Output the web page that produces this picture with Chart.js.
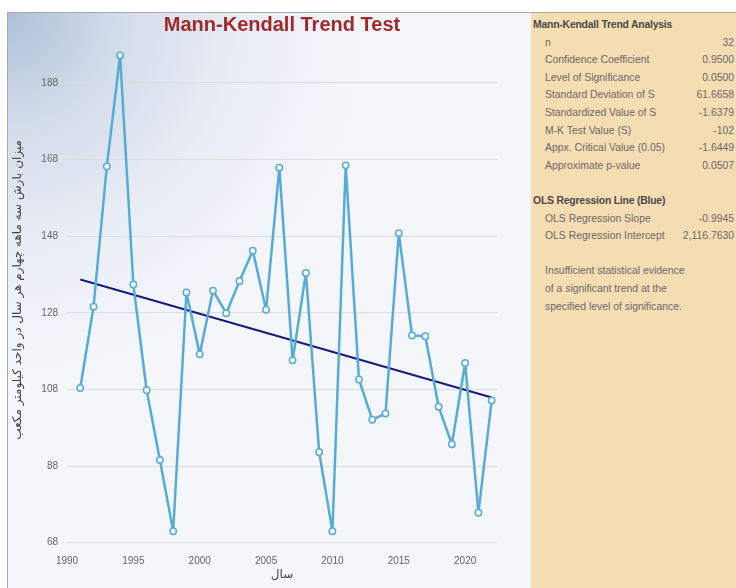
<!DOCTYPE html>
<html>
<head>
<meta charset="utf-8">
<script src="https://cdn.jsdelivr.net/npm/chart.js@4.4.1/dist/chart.umd.min.js"></script>
<style>
  html, body { margin: 0; padding: 0; background: #fff; }
  body { width: 736px; height: 588px; overflow: hidden; position: relative; }
  #frame {
    position: absolute; left: 7px; top: 12px; width: 729px; height: 576px;
    border-top: 1px solid #a8a8a8; border-left: 1px solid #a8a8a8;
  }
  #plot {
    position: absolute; left: 0; top: 0; width: 523px; height: 575px;
    background: radial-gradient(circle at 0 0, #adc1d9 0px, #d3dcea 110px, #e9edf5 230px, #f4f6fa 360px);
  }
  #panel {
    position: absolute; left: 523px; top: 0; width: 205px; height: 575px;
    background: #f4dcb3; font-family: "Liberation Sans", Arial, sans-serif;
    font-size: 10.4px; color: #6a6a6a; line-height: 17.6px; padding-top: 3px;
    padding-right: 2px; box-sizing: border-box;
  }
  #panel .head { font-weight: bold; color: #4a4a4a; padding-left: 2px; letter-spacing: -0.2px; }
  #panel .row { display: flex; justify-content: space-between; padding-left: 14px; }
  #panel .note { padding-left: 14px; }
  #panel .gap { height: 17.6px; }
</style>
</head>
<body>
<div id="frame">
  <div id="plot"><canvas id="mk" width="523" height="575"></canvas></div>
  <div id="panel"></div>
</div>
<script>
// series
const years = [1991, 1992, 1993, 1994, 1995, 1996, 1997, 1998, 1999, 2000, 2001,
               2002, 2003, 2004, 2005, 2006, 2007, 2008, 2009, 2010, 2011, 2012,
               2013, 2014, 2015, 2016, 2017, 2018, 2019, 2020, 2021, 2022];
const rainfall = [108.4, 129.6, 166.2, 195.2, 135.4, 107.8, 89.6, 71.0, 133.3, 117.2, 133.8,
                  127.9, 136.3, 144.2, 128.8, 165.9, 115.6, 138.4, 91.6, 71.0, 166.5, 110.6,
                  100.1, 101.7, 148.8, 122.1, 121.9, 103.5, 93.7, 114.9, 75.8, 105.1];
const trendYears = [1991, 2022];
const trendValues = [136.7, 105.9];
const yTicks = [68, 88, 108, 128, 148, 168, 188];
const xTicks = [1990, 1995, 2000, 2005, 2010, 2015, 2020];

// side panel
const mkLabels = ['n', 'Confidence Coefficient', 'Level of Significance', 'Standard Deviation of S',
                  'Standardized Value of S', 'M-K Test Value (S)', 'Appx. Critical Value (0.05)',
                  'Approximate p-value'];
const mkValues = ['32', '0.9500', '0.0500', '61.6658', '-1.6379', '-102', '-1.6449', '0.0507'];
const olsLabels = ['OLS Regression Slope', 'OLS Regression Intercept'];
const olsValues = ['-0.9945', '2,116.7630'];
const noteLines = ['Insufficient statistical evidence', 'of a significant trend at the',
                   'specified level of significance.'];

const panel = document.getElementById('panel');
function addDiv(cls, text) {
    const d = document.createElement('div');
    d.className = cls;
    if (text) d.textContent = text;
    panel.appendChild(d);
    return d;
}
function addRow(label, value) {
    const r = addDiv('row');
    const a = document.createElement('span'); a.textContent = label;
    const b = document.createElement('span'); b.textContent = value;
    r.appendChild(a); r.appendChild(b);
}
addDiv('head', 'Mann-Kendall Trend Analysis');
mkLabels.forEach((l, i) => addRow(l, mkValues[i]));
addDiv('gap');
addDiv('head', 'OLS Regression Line (Blue)');
olsLabels.forEach((l, i) => addRow(l, olsValues[i]));
addDiv('gap');
noteLines.forEach(t => addDiv('note', t));

// chart
const ctx = document.getElementById('mk').getContext('2d');
new Chart(ctx, {
    type: 'line',
    data: {
        datasets: [{
            label: 'Rainfall',
            data: years.map((y, i) => ({ x: y, y: rainfall[i] })),
            borderColor: '#55acd9',
            borderWidth: 2.5,
            borderJoinStyle: 'round',
            pointRadius: 3.2,
            pointBorderWidth: 1.5,
            pointBackgroundColor: '#ffffff',
            pointBorderColor: '#55acd9',
            tension: 0
        }, {
            label: 'OLS',
            data: trendYears.map((y, i) => ({ x: y, y: trendValues[i] })),
            borderColor: '#1a1a7a',
            borderWidth: 2,
            pointRadius: 0,
            tension: 0
        }]
    },
    options: {
        responsive: false,
        animation: false,
        devicePixelRatio: 1,
        layout: { padding: { left: 0, right: 34, top: 0, bottom: 0 } },
        plugins: {
            legend: { display: false },
            tooltip: { enabled: false },
            title: {
                display: true,
                fullSize: false,
                text: 'Mann-Kendall Trend Test',
                color: '#a3282b',
                font: { family: '"Liberation Sans", Arial, sans-serif', size: 20, weight: 'bold' },
                padding: { top: 0, bottom: 0 }
            }
        },
        scales: {
            x: {
                type: 'linear',
                min: 1990,
                max: 2022.4,
                afterBuildTicks: s => { s.ticks = xTicks.map(v => ({ value: v })); },
                afterFit: s => { s.height = 45.3; },
                grid: { display: false },
                border: { display: false },
                ticks: {
                    color: '#666',
                    padding: 5,
                    font: { family: '"Liberation Sans", Arial, sans-serif', size: 10 },
                    callback: v => String(v)
                },
                title: {
                    display: true,
                    text: 'سال',
                    color: '#444',
                    font: { family: '"DejaVu Sans", sans-serif', size: 12 },
                    padding: { top: 0, bottom: 5.8 }
                }
            },
            y: {
                min: 68,
                max: 200,
                afterBuildTicks: s => { s.ticks = yTicks.map(v => ({ value: v })); },
                afterFit: s => { s.width = 59; },
                grid: { color: '#dcdcdc', lineWidth: 1, drawTicks: false },
                border: { display: false },
                ticks: {
                    color: '#666',
                    padding: 9,
                    font: { family: '"Liberation Sans", Arial, sans-serif', size: 10 },
                    callback: v => String(v)
                },
                title: {
                    display: true,
                    text: 'میزان بارش سه ماهه چهارم هر سال در واحد کیلومتر مکعب',
                    color: '#444',
                    font: { family: '"DejaVu Sans", sans-serif', size: 12 },
                    padding: { top: 2.8, bottom: 0 }
                }
            }
        }
    }
});
</script>
</body>
</html>
